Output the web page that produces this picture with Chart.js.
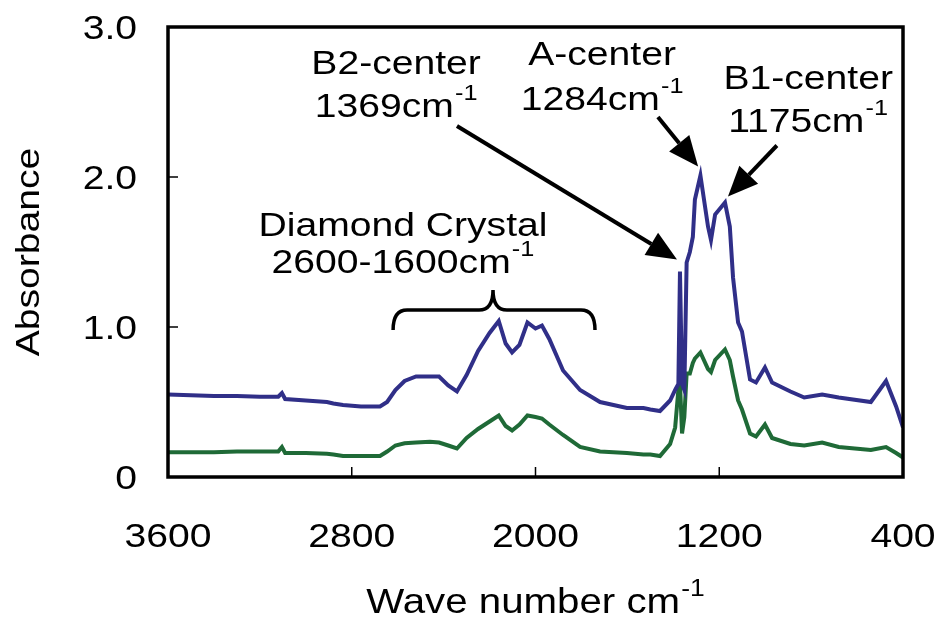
<!DOCTYPE html>
<html>
<head>
<meta charset="utf-8">
<script src="https://cdn.jsdelivr.net/npm/chart.js@4/dist/chart.umd.min.js"></script>
<style>
  html, body { margin: 0; padding: 0; background: #fff; }
  #wrap { width: 938px; height: 621px; }
</style>
</head>
<body>
<div id="wrap"><canvas id="irChart" width="938" height="621"></canvas></div>
<script>
// wave number (cm-1) of each sample
const waveNumbers = [
  3600, 3500, 3400, 3300, 3200, 3120, 3104, 3090, 3000, 2908,
  2880, 2838, 2760, 2677, 2646, 2610, 2570, 2520, 2460, 2420,
  2380, 2342, 2300, 2250, 2200, 2160, 2130, 2102, 2070, 2035,
  2000, 1972, 1940, 1880, 1806, 1719, 1602, 1530, 1500, 1458,
  1414, 1392, 1378, 1371, 1362, 1352, 1342, 1328, 1315, 1306,
  1282, 1249, 1236, 1218, 1175, 1154, 1140, 1118, 1101, 1066,
  1040, 1001, 970, 890, 830, 752, 680, 540, 474, 430, 400
];
// upper (blue) spectrum
const absorbanceBlue = [
  0.55, 0.545, 0.54, 0.54, 0.535, 0.535, 0.56, 0.52, 0.51, 0.50,
  0.49, 0.48, 0.47, 0.47, 0.50, 0.58, 0.64, 0.67, 0.67, 0.67,
  0.61, 0.57, 0.68, 0.84, 0.96, 1.04, 0.89, 0.83, 0.88, 1.03,
  0.99, 1.01, 0.92, 0.71, 0.58, 0.50, 0.46, 0.46, 0.45, 0.44,
  0.51, 0.58, 0.62, 1.37, 0.62, 0.58, 1.43, 1.50, 1.60, 1.85,
  2.01, 1.67, 1.58, 1.75, 1.83, 1.67, 1.33, 1.03, 0.97, 0.65,
  0.63, 0.73, 0.63, 0.57, 0.53, 0.55, 0.53, 0.50, 0.64, 0.47, 0.33
];
// lower (green) spectrum
const absorbanceGreen = [
  0.165, 0.165, 0.165, 0.17, 0.17, 0.17, 0.20, 0.16, 0.16, 0.155,
  0.15, 0.14, 0.14, 0.14, 0.17, 0.21, 0.225, 0.23, 0.235, 0.23,
  0.21, 0.19, 0.26, 0.32, 0.37, 0.41, 0.34, 0.31, 0.35, 0.41,
  0.40, 0.39, 0.35, 0.28, 0.20, 0.17, 0.16, 0.15, 0.15, 0.14,
  0.22, 0.33, 0.58, 0.63, 0.29, 0.40, 0.69, 0.69, 0.76, 0.79,
  0.83, 0.72, 0.70, 0.78, 0.85, 0.78, 0.67, 0.51, 0.45, 0.29,
  0.27, 0.35, 0.26, 0.22, 0.21, 0.23, 0.20, 0.18, 0.20, 0.16, 0.13
];
const xTicks = [3600, 2800, 2000, 1200, 400];
const yTicks = [0, 1, 2, 3];
const yTickLabels = ["0", "1.0", "2.0", "3.0"];

const FONT = "'Liberation Sans', Arial, sans-serif";
const SX = 1.15; // the original lettering is a bit wider than Arial

function toPoints(ys) {
  return waveNumbers.map((w, i) => ({ x: w, y: ys[i] }));
}

// text (optionally with a superscript), stretched horizontally by SX
function txt(ctx, s, x, y, size, align, sup) {
  const supSize = Math.round(size * 0.65);
  ctx.font = size + "px " + FONT;
  const w1 = ctx.measureText(s).width;
  let w2 = 0;
  if (sup) {
    ctx.font = supSize + "px " + FONT;
    w2 = ctx.measureText(sup).width + 1;
  }
  const w = (w1 + w2) * SX;
  let left = x;
  if (align === "center") left = x - w / 2;
  if (align === "right") left = x - w;
  ctx.save();
  ctx.translate(left, y);
  ctx.scale(SX, 1);
  ctx.textAlign = "left";
  ctx.textBaseline = "alphabetic";
  ctx.font = size + "px " + FONT;
  ctx.fillText(s, 0, 0);
  if (sup) {
    ctx.font = supSize + "px " + FONT;
    ctx.fillText(sup, w1 + 1, -size * 0.5);
  }
  ctx.restore();
}

function arrow(ctx, x1, y1, x2, y2) {
  const ang = Math.atan2(y2 - y1, x2 - x1);
  const len = 30, half = 13;
  const bx = x2 - len * Math.cos(ang), by = y2 - len * Math.sin(ang);
  ctx.lineWidth = 4;
  ctx.beginPath();
  ctx.moveTo(x1, y1);
  ctx.lineTo(bx, by);
  ctx.stroke();
  ctx.beginPath();
  ctx.moveTo(x2, y2);
  ctx.lineTo(bx + half * Math.sin(ang), by - half * Math.cos(ang));
  ctx.lineTo(bx - half * Math.sin(ang), by + half * Math.cos(ang));
  ctx.closePath();
  ctx.fill();
}

// annotations, placed in data coordinates (wave number, absorbance)
const labels = [
  { w: 2607, a: 2.69, main: "B2-center" },
  { w: 2607, a: 2.40, main: "1369cm", sup: "-1" },
  { w: 1710, a: 2.75, main: "A-center" },
  { w: 1710, a: 2.45, main: "1284cm", sup: "-1" },
  { w: 813, a: 2.59, main: "B1-center" },
  { w: 813, a: 2.30, main: "1175cm", sup: "-1" },
  { w: 2577, a: 1.61, main: "Diamond Crystal" },
  { w: 2577, a: 1.36, main: "2600-1600cm", sup: "-1" }
];
const arrows = [
  [2342, 2.34, 1384, 1.45],
  [1467, 2.40, 1292, 2.07],
  [949, 2.21, 1162, 1.87]
];

const framePlugin = {
  id: "framePlugin",
  afterDraw(chart) {
    const { ctx, chartArea: a, scales: { x, y } } = chart;
    ctx.save();
    ctx.strokeStyle = "#000";
    ctx.fillStyle = "#000";

    // small inward tick marks
    ctx.lineWidth = 1.5;
    ctx.beginPath();
    xTicks.slice(1, -1).forEach(v => {
      const px = x.getPixelForValue(v);
      ctx.moveTo(px, a.bottom);
      ctx.lineTo(px, a.bottom - 10);
    });
    yTicks.slice(1, -1).forEach(v => {
      const py = y.getPixelForValue(v);
      ctx.moveTo(a.left, py);
      ctx.lineTo(a.left + 10, py);
    });
    ctx.stroke();

    // plot frame
    ctx.lineWidth = 3.5;
    ctx.strokeRect(a.left, a.top, a.right - a.left, a.bottom - a.top);

    // tick labels
    xTicks.forEach(v => txt(ctx, String(v), x.getPixelForValue(v), a.bottom + 70, 34, "center"));
    yTicks.forEach((v, i) => txt(ctx, yTickLabels[i], a.left - 31, y.getPixelForValue(v) + 12, 34, "right"));

    // axis titles
    txt(ctx, "Wave number cm", (a.left + a.right) / 2, 613, 35, "center", "-1");
    ctx.save();
    ctx.translate(39, (a.top + a.bottom) / 2);
    ctx.rotate(-Math.PI / 2);
    txt(ctx, "Absorbance", 0, 0, 34, "center");
    ctx.restore();

    // labels
    labels.forEach(l => {
      txt(ctx, l.main, x.getPixelForValue(l.w), y.getPixelForValue(l.a), 34, "center", l.sup);
    });
    arrows.forEach(r => {
      arrow(ctx, x.getPixelForValue(r[0]), y.getPixelForValue(r[1]),
                 x.getPixelForValue(r[2]), y.getPixelForValue(r[3]));
    });

    // curly brace over the diamond crystal bands
    const bl = x.getPixelForValue(2620), br = x.getPixelForValue(1741);
    const bc = x.getPixelForValue(2185);
    const yEnd = y.getPixelForValue(0.98), yMid = y.getPixelForValue(1.113);
    const yTip = y.getPixelForValue(1.247);
    ctx.lineWidth = 3.5;
    ctx.beginPath();
    ctx.moveTo(bl, yEnd);
    ctx.quadraticCurveTo(bl, yMid, bl + 14, yMid);
    ctx.lineTo(bc - 14, yMid);
    ctx.quadraticCurveTo(bc, yMid, bc, yTip);
    ctx.quadraticCurveTo(bc, yMid, bc + 14, yMid);
    ctx.lineTo(br - 14, yMid);
    ctx.quadraticCurveTo(br, yMid, br, yEnd);
    ctx.stroke();

    ctx.restore();
  }
};

new Chart(document.getElementById("irChart"), {
  type: "line",
  data: {
    datasets: [
      {
        label: "upper",
        data: toPoints(absorbanceBlue),
        borderColor: "#302F88",
        borderWidth: 4,
        pointRadius: 0,
        tension: 0
      },
      {
        label: "lower",
        data: toPoints(absorbanceGreen),
        borderColor: "#1F6A37",
        borderWidth: 4,
        pointRadius: 0,
        tension: 0
      }
    ]
  },
  options: {
    responsive: false,
    animation: false,
    layout: { padding: { left: 0, right: 35, top: 27, bottom: 0 } },
    plugins: { legend: { display: false }, tooltip: { enabled: false } },
    scales: {
      x: {
        type: "linear",
        reverse: true,
        min: 400,
        max: 3600,
        afterBuildTicks: s => { s.ticks = xTicks.map(v => ({ value: v })); },
        afterFit: s => {
          s.height = 144;
          s.paddingLeft = 0;
          s.paddingRight = 0;
        },
        grid: { display: false, drawTicks: false },
        border: { display: false },
        ticks: { display: false }
      },
      y: {
        min: 0,
        max: 3,
        afterBuildTicks: s => { s.ticks = yTicks.map(v => ({ value: v })); },
        afterFit: s => {
          s.width = 168;
          s.paddingTop = 0;
          s.paddingBottom = 0;
        },
        grid: { display: false, drawTicks: false },
        border: { display: false },
        ticks: { display: false }
      }
    }
  },
  plugins: [framePlugin]
});
</script>
</body>
</html>
